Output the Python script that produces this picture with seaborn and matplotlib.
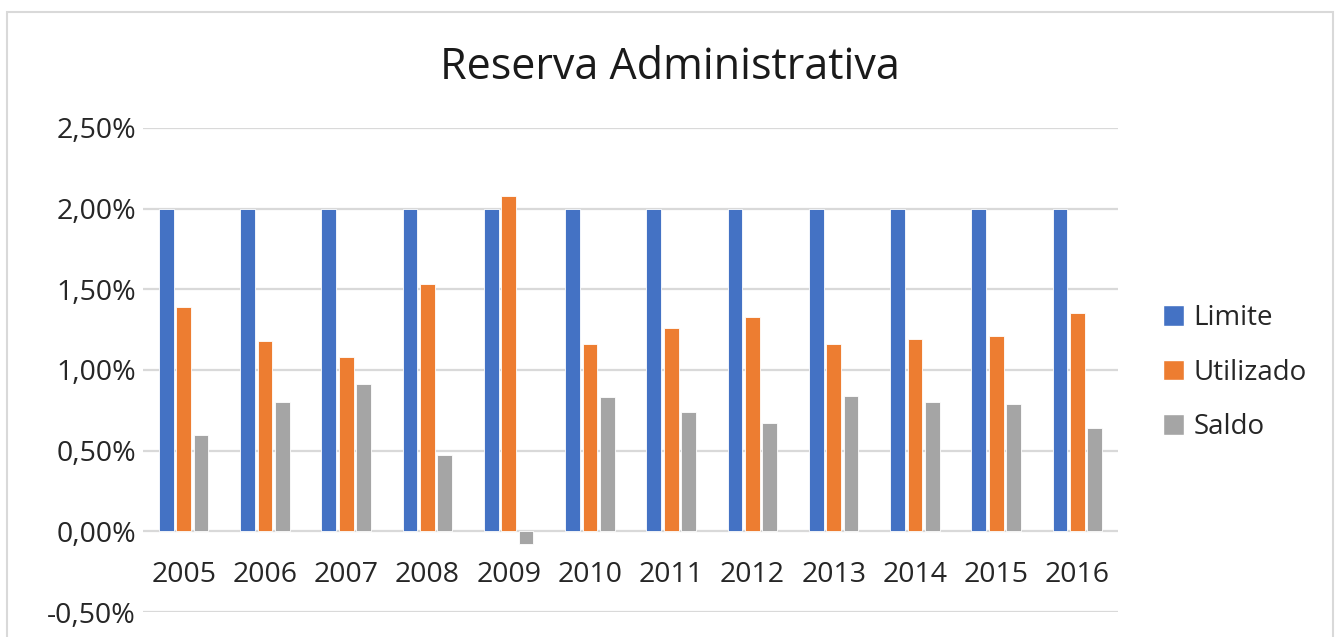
import matplotlib
matplotlib.use("Agg")
import matplotlib.pyplot as plt
import matplotlib.patches as mpatches
import numpy as np
import pandas as pd
import seaborn as sns
from matplotlib.ticker import FuncFormatter

# values (percent)
years = ["2005", "2006", "2007", "2008", "2009", "2010",
         "2011", "2012", "2013", "2014", "2015", "2016"]
limite = [2.00, 2.00, 2.00, 2.00, 2.00, 2.00, 2.00, 2.00, 2.00, 2.00, 2.00, 2.00]
utilizado = [1.39, 1.18, 1.08, 1.53, 2.08, 1.16, 1.26, 1.33, 1.16, 1.19, 1.21, 1.35]
saldo = [0.60, 0.80, 0.91, 0.47, -0.08, 0.83, 0.74, 0.67, 0.84, 0.80, 0.79, 0.64]
series = ["Limite", "Utilizado", "Saldo"]
colors = ["#4472C4", "#ED7D31", "#A5A5A5"]

df = pd.DataFrame({"ano": years * 3,
                   "valor": limite + utilizado + saldo,
                   "serie": np.repeat(series, len(years))})

sns.set_style("white")
plt.rcParams["font.family"] = ["Open Sans", "DejaVu Sans"]

fig = plt.figure(figsize=(13.38, 6.37), dpi=100)
ax = fig.add_axes([0.1069, 0.0392, 0.7287, 0.760])

sns.barplot(data=df, x="ano", y="valor", hue="serie", palette=colors,
            saturation=1, width=0.64, gap=0.15, ax=ax, legend=False,
            errorbar=None, edgecolor="white", linewidth=0.6, zorder=3)

ax.set_ylim(-0.5, 2.5)
ax.set_xlim(-0.5, len(years) - 0.5)
ax.set_yticks(np.arange(-0.5, 2.51, 0.5))
ax.yaxis.set_major_formatter(FuncFormatter(lambda v, p: f"{v:.2f}%".replace(".", ",")))
ax.grid(axis="y", color="#d9d9d9", linewidth=1.6, zorder=0)
ax.set_axisbelow(True)
for s in ax.spines.values():
    s.set_visible(False)
ax.set_xlabel("")
ax.set_ylabel("")
ax.tick_params(axis="y", length=0, pad=5, labelsize=20.5, labelcolor="#262626")
ax.tick_params(axis="x", length=0, pad=-37, labelsize=20.5, labelcolor="#262626")

# title is centred on the whole chart, not on the plot area
ax.set_title("Reserva Administrativa", fontsize=31, color="#1a1a1a", pad=35, x=0.5405)

handles = [mpatches.Patch(facecolor=c, edgecolor="white", label=s) for c, s in zip(colors, series)]
fig.legend(handles=handles, loc="center left", bbox_to_anchor=(0.8505, 0.415),
           frameon=False, fontsize=20, handlelength=0.75, handleheight=0.75,
           handletextpad=0.35, labelspacing=0.95, labelcolor="#262626")

# chart frame
fig.patches.append(mpatches.Rectangle((7 / 1338, -0.05), 1326 / 1338, 1.05 - 12 / 637,
                                      transform=fig.transFigure, fill=False,
                                      edgecolor="#d9d9d9", linewidth=1.5))

fig.savefig("out.png", dpi=100)
